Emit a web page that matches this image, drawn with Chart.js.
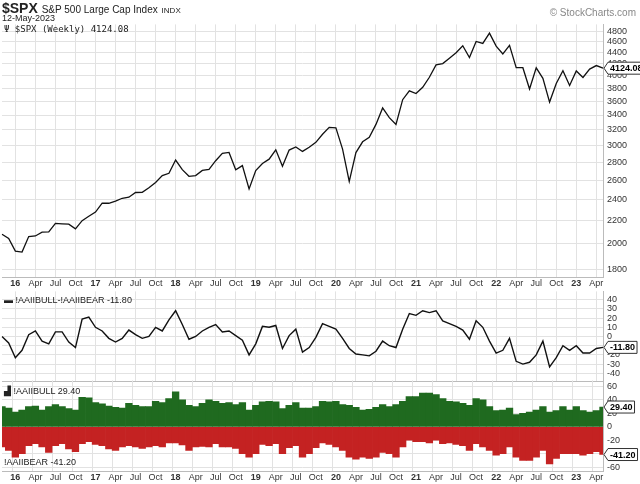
<!DOCTYPE html>
<html><head><meta charset="utf-8">
<script src="https://cdn.jsdelivr.net/npm/chart.js@4"></script>
<style>
body{margin:0;width:640px;height:484px;background:#fff;font-family:"Liberation Sans",Arial,sans-serif;position:relative;overflow:hidden}
.c{position:absolute;left:0;width:640px}
.t{position:absolute;font-size:10px;color:#222;white-space:nowrap;line-height:1}
</style></head><body>
<div class="c" style="top:15px;height:275px"><canvas id="c1"></canvas></div>
<div class="c" style="top:282px;height:109px"><canvas id="c2"></canvas></div>
<div class="c" style="top:371px;height:113px"><canvas id="c3"></canvas></div>
<div class="t" style="left:2px;top:1px;font-size:14px;font-weight:bold">$SPX <span style="font-size:10px;font-weight:normal">S&amp;P 500 Large Cap Index</span> <span style="font-size:8px;font-weight:normal">INDX</span></div>
<div class="t" style="left:2px;top:14px;font-size:9px">12-May-2023</div>
<div class="t" style="right:4px;top:8px;font-size:10px;color:#888">© StockCharts.com</div>
<div class="t" style="left:4px;top:25px;font-family:'DejaVu Sans Mono';font-size:9px">Ψ $SPX (Weekly) 4124.08</div>
<div class="t" style="left:4px;top:296px;font-size:9px">▬ !AAIIBULL-!AAIIBEAR -11.80</div>
<div class="t" style="left:4px;top:387px;font-size:9px">▟ !AAIIBULL 29.40</div>
<div class="t" style="left:4px;top:458px;font-size:9px">!AAIIBEAR -41.20</div>
<script>
const months=[];
for(let y=2015;y<=2023;y++)for(let m=0;m<12;m++){if(y===2015&&m<10)continue;if(y===2023&&m>4)continue;months.push([y,m]);}
const spx=[2080,2044,
1940,1932,2060,2065,2097,2099,2174,2171,2168,2126,2199,2239,
2279,2364,2363,2384,2412,2423,2470,2472,2519,2575,2648,2674,
2824,2714,2641,2648,2705,2718,2816,2902,2914,2712,2760,2507,
2704,2784,2834,2946,2752,2942,2980,2926,2977,3038,3141,3231,
3226,2954,2585,2912,3044,3100,3271,3500,3363,3270,3622,3756,
3714,3811,3973,4181,4204,4298,4395,4523,4308,4605,4567,4766,
4516,4374,4530,4132,4132,3785,4130,3955,3586,3872,4080,3840,
4077,3970,4109,4169,4124.08];
const bull=[30,28,
22,25,30,31,25,30,33,30,27,25,44,43,
36,34,31,29,28,35,32,30,30,38,36,42,
52,40,32,30,35,40,38,35,36,33,36,25,
32,37,38,37,27,32,36,28,28,30,38,37,
38,33,32,29,25,26,29,33,30,33,38,45,
45,50,50,48,42,38,37,35,32,42,40,30,
24,25,28,18,20,22,25,30,22,24,30,25,
30,24,22,24,29.4];
const bear=[-30,-35,
-45,-40,-28,-25,-30,-38,-28,-25,-33,-37,-25,-22,
-26,-28,-33,-35,-30,-28,-30,-32,-30,-28,-30,-24,
-24,-27,-35,-30,-29,-30,-25,-30,-30,-32,-40,-45,
-40,-26,-28,-25,-40,-31,-28,-45,-40,-31,-24,-26,
-30,-35,-45,-48,-45,-47,-45,-38,-40,-45,-30,-20,
-22,-22,-24,-20,-25,-24,-26,-28,-35,-25,-30,-35,
-42,-40,-30,-45,-50,-50,-45,-35,-55,-47,-40,-40,
-40,-42,-40,-37,-41.2];
const spread=[0,-7,
-23,-15,2,6,-5,-8,5,5,-6,-12,19,21,
10,6,-2,-6,-2,7,2,-2,0,10,6,18,
28,13,-3,0,6,10,13,5,6,1,-4,-20,
-8,11,10,12,-13,1,8,-17,-12,-1,14,11,
8,-2,-13,-19,-20,-21,-16,-5,-10,-12,8,25,
23,28,26,28,17,14,11,7,-3,17,10,-5,
-18,-15,-2,-27,-30,-28,-20,-5,-33,-23,-10,-15,
-10,-18,-18,-13,-11.8];
const mNames=['Jan','Feb','Mar','Apr','May','Jun','Jul','Aug','Sep','Oct','Nov','Dec'];
const labels=months.map(([y,m])=>m===0?String(y).slice(2):(m%3===0?mNames[m]:''));
Chart.defaults.font.family='"Liberation Sans", Arial, sans-serif';
Chart.defaults.font.size=9;Chart.defaults.color='#333';
Chart.defaults.animation=false;Chart.defaults.maintainAspectRatio=false;
Chart.defaults.plugins.legend.display=false;Chart.defaults.plugins.tooltip.enabled=false;
const gridX={color:c=>labels[c.index]?'#e2e2e2':'rgba(0,0,0,0)',drawTicks:false};
function xScale(show){return{grid:gridX,border:{color:'#bbb'},offset:false,ticks:{display:show,autoSkip:false,maxRotation:0,padding:1,callback:(v,i)=>labels[i],font:c=>({size:9,weight:/^\d/.test(labels[c.index]||'')?'bold':'normal'})}};}
function yScale(extra){return Object.assign({position:'right',grid:{color:'#e2e2e2',drawTicks:false},border:{color:'#bbb'},afterFit:s=>{s.width=37;}},extra,{ticks:Object.assign({padding:4,autoSkip:false,font:{size:9}},extra.ticks||{})});}
const tag={id:'tag',afterDraw(ch,a,o){const ctx=ch.ctx;(o.items||[]).forEach(it=>{const y=ch.scales.y.getPixelForValue(it.v);const x=ch.chartArea.right+1;ctx.save();ctx.font='bold 9px "Liberation Sans"';const w=ctx.measureText(it.t).width+4;ctx.fillStyle='#fff';ctx.strokeStyle='#333';ctx.beginPath();ctx.moveTo(x,y);ctx.lineTo(x+4,y-6);ctx.lineTo(x+4+w,y-6);ctx.lineTo(x+4+w,y+6);ctx.lineTo(x+4,y+6);ctx.closePath();ctx.fill();ctx.stroke();ctx.fillStyle='#000';ctx.textBaseline='middle';ctx.fillText(it.t,x+6,y+0.5);ctx.restore();});}};
new Chart(document.getElementById('c1'),{type:'line',data:{labels,datasets:[{data:spx,borderColor:'#111',borderWidth:1.3,pointRadius:0,tension:0}]},
options:{layout:{padding:{left:2,top:2,right:0}},scales:{x:xScale(true),y:yScale({type:'logarithmic',min:1742,max:4940,
afterBuildTicks:s=>{const t=[];for(let v=1800;v<=4800;v+=200)t.push({value:v});s.ticks=t;},ticks:{callback:v=>String(v)}})},plugins:{tag:{items:[{v:4124.08,t:'4124.08'}]}}},plugins:[tag]});
new Chart(document.getElementById('c2'),{type:'line',data:{labels,datasets:[{data:spread,borderColor:'#111',borderWidth:1.4,pointRadius:0,tension:0}]},
options:{layout:{padding:{left:2,top:2,right:0}},scales:{x:xScale(false),y:yScale({min:-49,max:49,afterBuildTicks:s=>{const t=[];for(let v=-40;v<=40;v+=10)t.push({value:v});s.ticks=t;}})},plugins:{tag:{items:[{v:-11.8,t:'-11.80'}]}}},plugins:[tag]});
new Chart(document.getElementById('c3'),{type:'bar',data:{labels,datasets:[{data:bull,backgroundColor:'#1f6a1f',barPercentage:1,categoryPercentage:1},{data:bear,backgroundColor:'#c42222',barPercentage:1,categoryPercentage:1}]},
options:{layout:{padding:{left:2,top:1,right:0}},scales:{x:Object.assign(xScale(true),{stacked:true,offset:false}),y:yScale({stacked:true,min:-66,max:69,afterBuildTicks:s=>{const t=[];for(let v=-60;v<=60;v+=20)t.push({value:v});s.ticks=t;}})},plugins:{tag:{items:[{v:29.4,t:'29.40'},{v:-41.2,t:'-41.20'}]}}},plugins:[tag]});
</script></body></html>
